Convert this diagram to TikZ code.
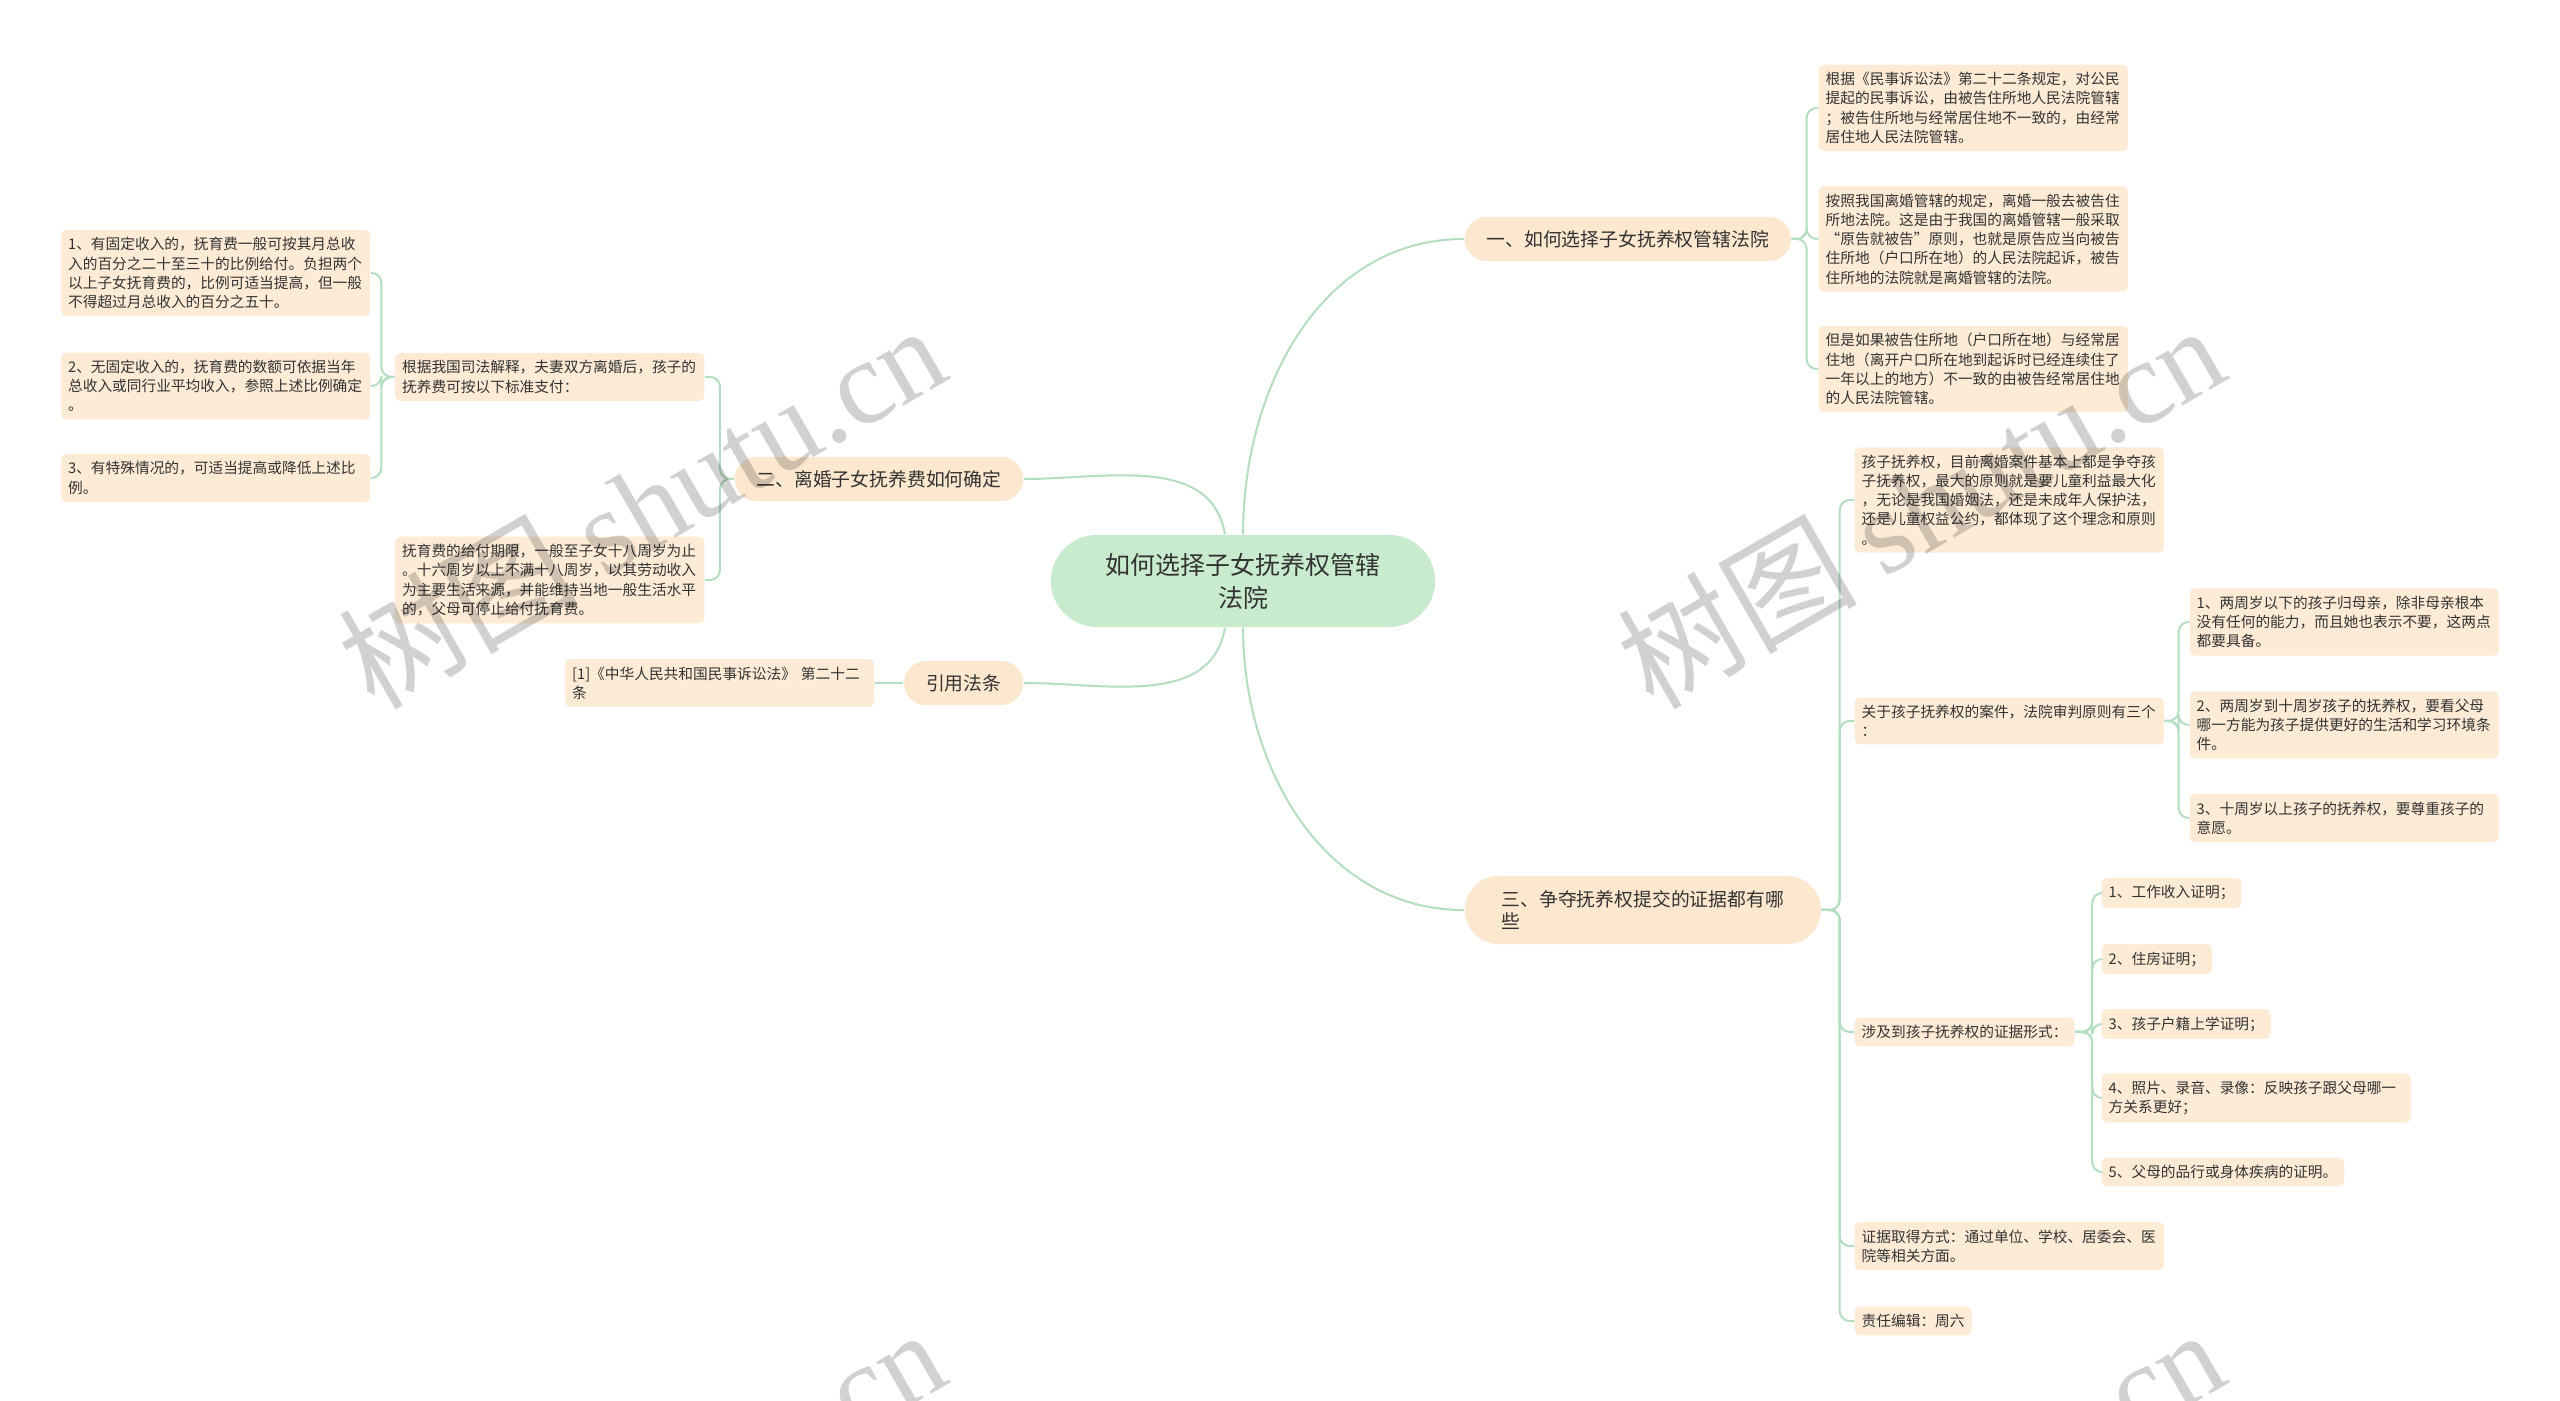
\documentclass[tikz,border=0pt]{standalone}
\usepackage{fontspec}
\setmainfont{Noto Sans CJK SC}
\newfontfamily\wmlatin{Liberation Serif}
\usetikzlibrary{positioning}

\definecolor{leafc}{HTML}{FDEBD6}
\definecolor{branchc}{HTML}{FCE7CF}
\definecolor{topicc}{HTML}{C8EBCE}
\definecolor{linec}{HTML}{B3DEC0}
\definecolor{txtc}{HTML}{333333}
\newcommand\leaffont{\fontsize{4.18}{5.46}\selectfont}
\newcommand\branchfont{\fontsize{5.35}{6.3}\selectfont}
\newcommand\topicfont{\fontsize{7.1}{9.4}\selectfont}

\tikzset{
  leaf/.style={rectangle, rounded corners=0.05cm, fill=leafc, text=txtc, font=\leaffont, align=left, inner xsep=0.07cm, inner ysep=0.075cm},
  wleaf/.style={leaf, text width=2.95cm},
  branch/.style={rectangle, rounded corners=0.22cm, fill=branchc, text=txtc, font=\branchfont, minimum height=0.44cm, inner xsep=0.22cm},
  topic/.style={rectangle, rounded corners=0.46cm, fill=topicc, text=txtc, font=\topicfont, align=center, minimum width=3.84cm, minimum height=0.92cm},
  conn/.style={draw=linec, line width=0.02cm, rounded corners=0.1cm},
  wmark/.style={text=black, text opacity=0.18, font=\fontsize{34}{34}\selectfont, rotate=30}
}

\begin{document}
\begin{tikzpicture}[x=0.01cm, y=-0.01cm]
\fill[white] (0,0) rectangle (2560,1401);
\useasboundingbox (0,0) rectangle (2560,1401);

\node[topic] (root) at (1243,581) {如何选择子女抚养权管辖\\法院};

\node[branch, anchor=west] (b1) at (1464,239) {一、如何选择子女抚养权管辖法院};
\node[branch, anchor=east] (b2) at (1024,479) {二、离婚子女抚养费如何确定};
\node[branch, anchor=west, align=left, inner xsep=0.37cm, rounded corners=0.34cm, minimum height=0.68cm] (b3) at (1464,910) {三、争夺抚养权提交的证据都有哪\\些};
\node[branch, anchor=east] (b4) at (1024,683) {引用法条};

\node[wleaf, anchor=west] (court1) at (1818,108) {根据《民事诉讼法》第二十二条规定，对公民\\提起的民事诉讼，由被告住所地人民法院管辖\\；被告住所地与经常居住地不一致的，由经常\\居住地人民法院管辖。};
\node[wleaf, anchor=west] (court2) at (1818,239) {按照我国离婚管辖的规定，离婚一般去被告住\\所地法院。这是由于我国的离婚管辖一般采取\\“原告就被告”原则，也就是原告应当向被告\\住所地（户口所在地）的人民法院起诉，被告\\住所地的法院就是离婚管辖的法院。};
\node[wleaf, anchor=west] (court3) at (1818,369) {但是如果被告住所地（户口所在地）与经常居\\住地（离开户口所在地到起诉时已经连续住了\\一年以上的地方）不一致的由被告经常居住地\\的人民法院管辖。};

\node[wleaf, anchor=east] (fee) at (705,377) {根据我国司法解释，夫妻双方离婚后，孩子的\\抚养费可按以下标准支付：};
\node[wleaf, anchor=east] (term) at (705,580) {抚育费的给付期限，一般至子女十八周岁为止\\。十六周岁以上不满十八周岁，以其劳动收入\\为主要生活来源，并能维持当地一般生活水平\\的，父母可停止给付抚育费。};
\node[wleaf, anchor=east] (feeA) at (371,273) {1、有固定收入的，抚育费一般可按其月总收\\入的百分之二十至三十的比例给付。负担两个\\以上子女抚育费的，比例可适当提高，但一般\\不得超过月总收入的百分之五十。};
\node[wleaf, anchor=east] (feeB) at (371,386) {2、无固定收入的，抚育费的数额可依据当年\\总收入或同行业平均收入，参照上述比例确定\\。};
\node[wleaf, anchor=east] (feeC) at (371,478) {3、有特殊情况的，可适当提高或降低上述比\\例。};

\node[wleaf, anchor=east] (law) at (875,683) {[1]《中华人民共和国民事诉讼法》 第二十二\\条};

\node[wleaf, anchor=west] (child) at (1854,500) {孩子抚养权，目前离婚案件基本上都是争夺孩\\子抚养权，最大的原则就是要儿童利益最大化\\，无论是我国婚姻法，还是未成年人保护法，\\还是儿童权益公约，都体现了这个理念和原则\\。};
\node[wleaf, anchor=west] (rule) at (1854,721) {关于孩子抚养权的案件，法院审判原则有三个\\：};
\node[leaf, anchor=west] (evid) at (1854,1032) {涉及到孩子抚养权的证据形式：};
\node[wleaf, anchor=west] (way) at (1854,1246) {证据取得方式：通过单位、学校、居委会、医\\院等相关方面。};
\node[leaf, anchor=west] (editor) at (1854,1321) {责任编辑：周六};

\node[wleaf, anchor=west] (age1) at (2189,622) {1、两周岁以下的孩子归母亲，除非母亲根本\\没有任何的能力，而且她也表示不要，这两点\\都要具备。};
\node[wleaf, anchor=west] (age2) at (2189,725) {2、两周岁到十周岁孩子的抚养权，要看父母\\哪一方能为孩子提供更好的生活和学习环境条\\件。};
\node[wleaf, anchor=west] (age3) at (2189,818) {3、十周岁以上孩子的抚养权，要尊重孩子的\\意愿。};

\node[leaf, anchor=west] (ev1) at (2101,893) {1、工作收入证明；};
\node[leaf, anchor=west] (ev2) at (2101,959) {2、住房证明；};
\node[leaf, anchor=west] (ev3) at (2101,1024) {3、孩子户籍上学证明；};
\node[wleaf, anchor=west] (ev4) at (2101,1098) {4、照片、录音、录像：反映孩子跟父母哪一\\方关系更好；};
\node[leaf, anchor=west] (ev5) at (2101,1172) {5、父母的品行或身体疾病的证明。};

\draw[conn] (root.north) to[out=90, in=180] (b1.west);
\draw[conn] ([xshift=-0.18cm]root.north) to[out=100, in=0] (b2.east);
\draw[conn] (root.south) to[out=-90, in=180] (b3.west);
\draw[conn] ([xshift=-0.18cm]root.south) to[out=-100, in=0] (b4.east);

\foreach \n in {court1,court2,court3}
  \draw[conn] (b1.east) -- ++(15,0) |- (\n.west);
\foreach \n in {fee,term}
  \draw[conn] (b2.west) -- ++(-14,0) |- (\n.east);
\foreach \n in {feeA,feeB,feeC}
  \draw[conn] (fee.west) -- ++(-13,0) |- (\n.east);
\draw[conn] (b4.west) -- (law.east);
\foreach \n in {child,rule,evid,way,editor}
  \draw[conn] (b3.east) -- ++(18,0) |- (\n.west);
\foreach \n in {age1,age2,age3}
  \draw[conn] (rule.east) -- ++(14,0) |- (\n.west);
\foreach \n in {ev1,ev2,ev3,ev4,ev5}
  \draw[conn] (evid.east) -- ++(17,0) |- (\n.west);

\begin{scope}
\clip (0,0) rectangle (2560,1401);
\foreach \x in {641,1920}
  \foreach \y in {505,1509}
    \node[wmark] at (\x,\y) {树图 {\wmlatin shutu.cn}};
\end{scope}
\end{tikzpicture}
\end{document}
